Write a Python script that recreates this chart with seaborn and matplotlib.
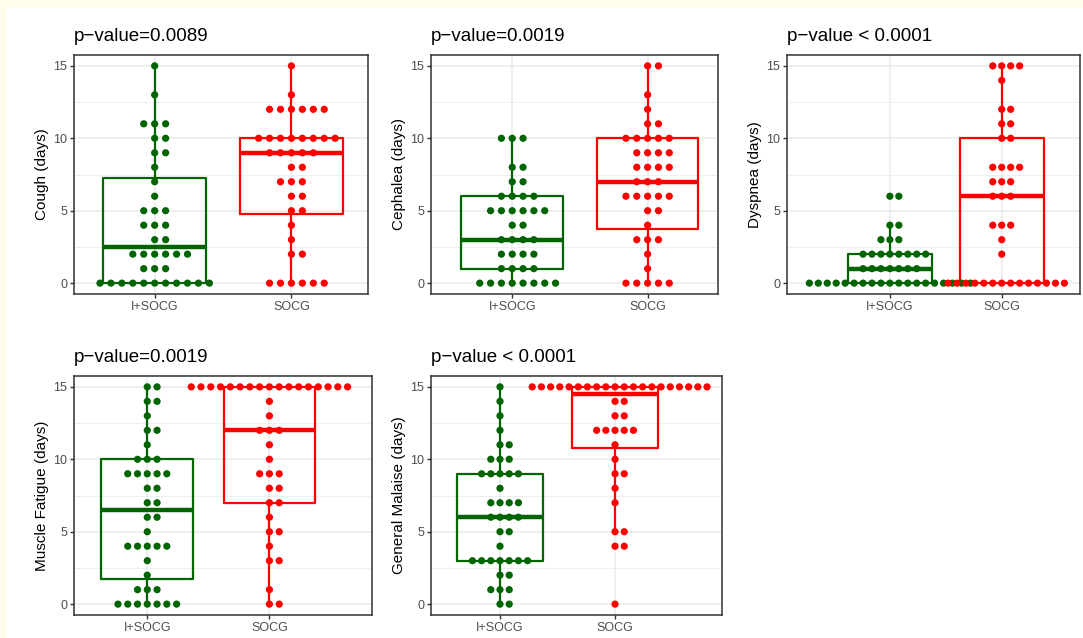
import numpy as np
import pandas as pd
import matplotlib
matplotlib.use("Agg")
import matplotlib.pyplot as plt
from matplotlib.patches import Rectangle
import seaborn as sns

# ---------------- data (counts of patients per number of days) ----------------
days = list(range(16))
groups = ["I+SOCG", "SOCG"]

cough_isocg = [11, 3, 6, 2, 3, 3, 1, 1, 1, 2, 2, 3, 0, 1, 0, 1]
cough_socg = [6, 0, 2, 1, 1, 2, 2, 3, 2, 5, 8, 0, 6, 1, 0, 1]

cephalea_isocg = [8, 4, 4, 4, 2, 6, 4, 2, 2, 0, 3, 0, 0, 0, 0, 0]
cephalea_socg = [5, 1, 1, 3, 1, 2, 5, 3, 4, 4, 5, 2, 1, 1, 0, 2]

dyspnea_isocg = [19, 7, 8, 3, 2, 0, 2, 0, 0, 0, 0, 0, 0, 0, 0, 0]
dyspnea_socg = [14, 0, 1, 1, 3, 0, 3, 3, 4, 0, 2, 2, 2, 0, 1, 4]

fatigue_isocg = [7, 3, 1, 1, 5, 1, 2, 2, 2, 5, 3, 1, 2, 1, 2, 2]
fatigue_socg = [2, 1, 0, 2, 1, 2, 1, 2, 2, 3, 1, 1, 3, 1, 1, 17]

malaise_isocg = [2, 3, 2, 7, 1, 2, 4, 4, 1, 5, 3, 2, 1, 1, 1, 1]
malaise_socg = [1, 0, 0, 0, 2, 2, 0, 1, 1, 2, 1, 1, 5, 2, 2, 20]

titles = ["p\u2212value=0.0089", "p\u2212value=0.0019", "p\u2212value < 0.0001",
          "p\u2212value=0.0019", "p\u2212value < 0.0001"]
ylabels = ["Cough (days)", "Cephalea (days)", "Dyspnea (days)",
           "Muscle Fatigue (days)", "General Malaise (days)"]
counts = [(cough_isocg, cough_socg), (cephalea_isocg, cephalea_socg),
          (dyspnea_isocg, dyspnea_socg), (fatigue_isocg, fatigue_socg),
          (malaise_isocg, malaise_socg)]

# ---------------- layout / style ----------------
W, H = 1083, 638
# (left, right, top, bottom) in pixels, and x-limits
layout = [
    (74, 368, 55, 294, (-0.59, 1.56)),
    (431, 718, 55, 294, (-0.60, 1.52)),
    (787, 1080, 55, 294, (-0.92, 1.70)),
    (74, 372, 376, 615, (-0.60, 1.84)),
    (431, 722, 376, 615, (-0.60, 1.93)),
]
palette = {"I+SOCG": "#006400", "SOCG": "#FF0000"}
dot_step = 0.08

sns.set_theme(style="white")
plt.rcParams["font.family"] = ["Liberation Sans", "DejaVu Sans"]

fig = plt.figure(figsize=(W / 100, H / 100), dpi=100, facecolor="#FFFCE9")
fig.add_artist(Rectangle((6 / W, 0), 1 - 6 / W, 1 - 8 / H, transform=fig.transFigure,
                         facecolor="white", edgecolor="none", zorder=-10))

for (title, ylab, (ci, cs), (l, r, t, b, xlim)) in zip(titles, ylabels, counts, layout):
    ax = fig.add_axes([l / W, 1 - b / H, (r - l) / W, (b - t) / H])
    ax.set_facecolor("white")

    grp, vals = [], []
    for g, c in zip(groups, (ci, cs)):
        v = np.repeat(days, c)
        vals.extend(v.tolist())
        grp.extend([g] * len(v))
    df = pd.DataFrame({"group": grp, "days": vals})

    sns.boxplot(data=df, x="group", y="days", hue="group", order=groups,
                hue_order=groups, palette=palette, fill=False, width=0.75,
                whis=1.5, showcaps=False, showfliers=False, linewidth=1.6,
                medianprops={"linewidth": 3.2}, legend=False, ax=ax)

    # centred-whole dot stacks
    xs, ys, gs = [], [], []
    for gi, (g, c) in enumerate(zip(groups, (ci, cs))):
        for v, n in zip(days, c):
            if n == 0:
                continue
            offs = np.arange(n) - (n - 1) // 2
            xs.extend((gi + offs * dot_step).tolist())
            ys.extend([v] * n)
            gs.extend([g] * n)
    dots = pd.DataFrame({"x": xs, "y": ys, "group": gs})
    sns.scatterplot(data=dots, x="x", y="y", hue="group", palette=palette,
                    s=27, linewidth=0, legend=False, ax=ax, zorder=4)

    ax.set_xlim(*xlim)
    ax.set_ylim(-0.75, 15.75)
    ax.set_xticks([0, 1])
    ax.set_xticklabels(groups)
    ax.set_yticks([0, 5, 10, 15])
    ax.set_yticks([2.5, 7.5, 12.5], minor=True)
    ax.set_axisbelow(True)
    ax.grid(which="major", color="#EBEBEB", linewidth=1.1)
    ax.grid(which="minor", axis="y", color="#EBEBEB", linewidth=0.55)
    for s in ax.spines.values():
        s.set_color("#333333")
        s.set_linewidth(1.1)
        s.set_visible(True)
    ax.tick_params(which="major", direction="out", length=3, width=1, color="#333333",
                   labelcolor="#4D4D4D", labelsize=9, pad=2, bottom=True, left=True)
    ax.tick_params(which="minor", length=0)
    ax.set_xlabel("")
    ax.set_ylabel(ylab, fontsize=11, labelpad=3, color="black")
    ax.set_title(title, loc="left", fontsize=13.5, pad=10, color="black")

fig.savefig("out.png", dpi=100, facecolor=fig.get_facecolor())
